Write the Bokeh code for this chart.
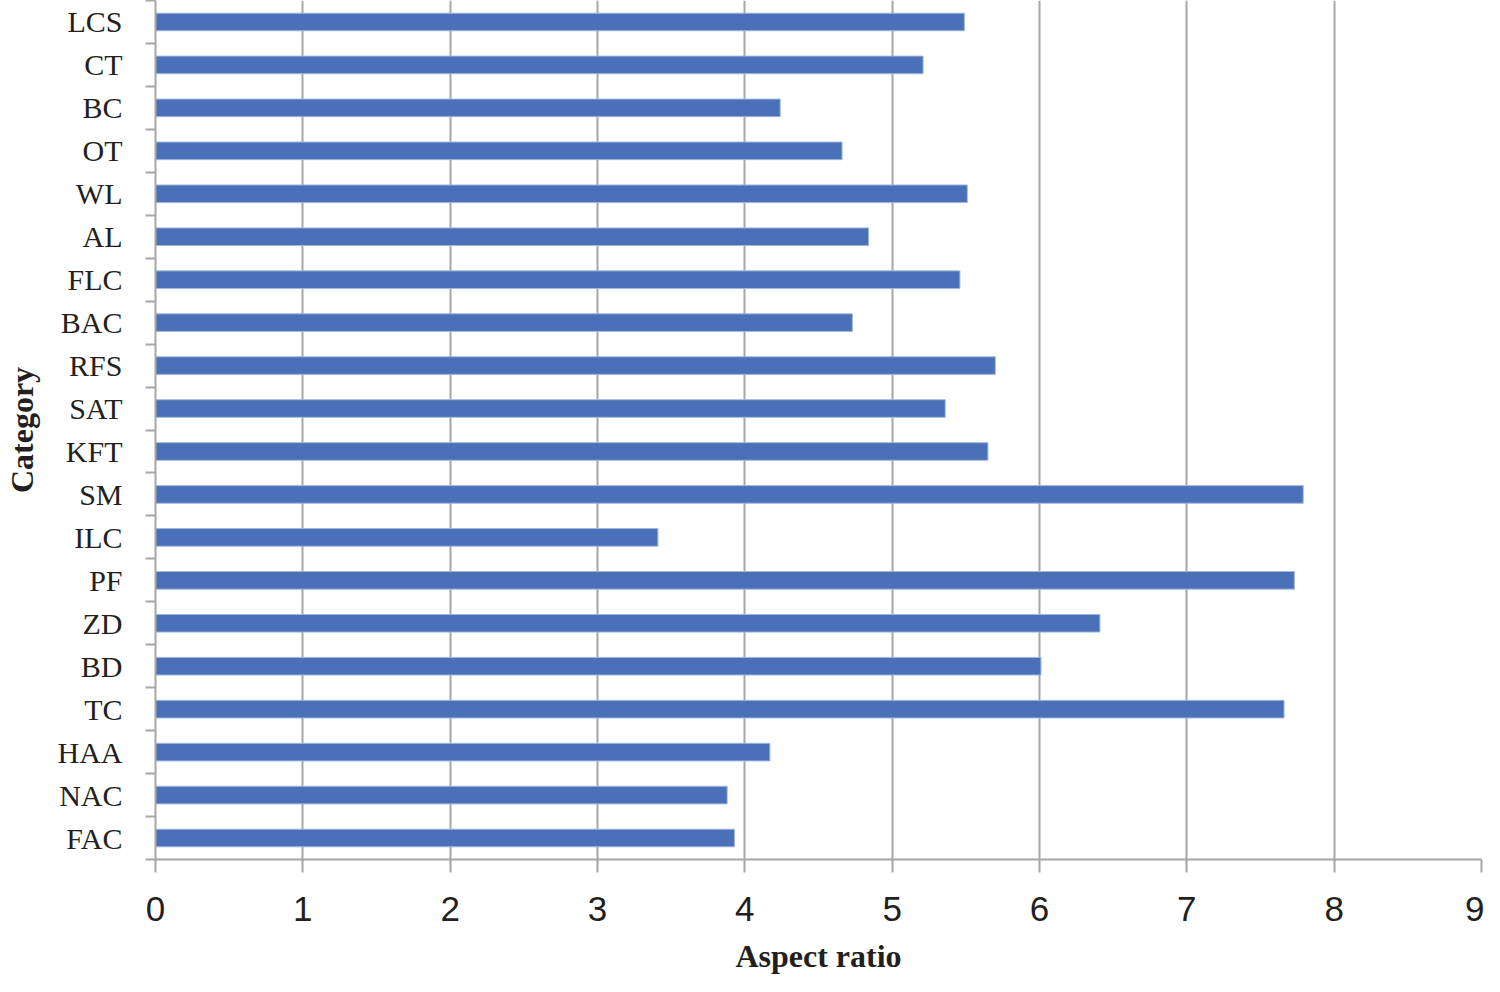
from bokeh.plotting import figure
from bokeh.models import ColumnDataSource, FixedTicker, Range1d
from bokeh.embed import file_html
from bokeh.resources import INLINE

# Data (bottom to top)
categories = ["FAC", "NAC", "HAA", "TC", "BD", "ZD", "PF", "ILC", "SM", "KFT",
              "SAT", "RFS", "BAC", "FLC", "AL", "WL", "OT", "BC", "CT", "LCS"]
values = [3.93, 3.88, 4.17, 7.66, 6.01, 6.41, 7.73, 3.41, 7.79, 5.65,
          5.36, 5.70, 4.73, 5.46, 4.84, 5.51, 4.66, 4.24, 5.21, 5.49]
x_ticks = [0, 1, 2, 3, 4, 5, 6, 7, 8, 9]
x_title = "Aspect ratio"
y_title = "Category"

positions = [i + 0.5 for i in range(len(categories))]
src = ColumnDataSource(dict(y=positions, v=values, cat=categories))

GRAY = "#a6a6a6"
TXT = "#231f20"
n = len(categories)

p = figure(width=1484, height=976, output_backend="svg", toolbar_location=None,
           x_range=Range1d(0, 9), y_range=Range1d(0, n),
           min_border_left=148, min_border_right=3, min_border_top=0,
           min_border_bottom=10)
p.outline_line_color = None
p.background_fill_color = "white"

p.hbar(y="y", right="v", left=0, height=0.41, source=src,
       fill_color="#4a71b8", line_color="#a3b6de", line_width=1)

# x axis
p.xaxis.ticker = FixedTicker(ticks=x_ticks)
p.xaxis.axis_label = x_title
p.xaxis.axis_line_color = GRAY
p.xaxis.axis_line_width = 2
p.xaxis.major_tick_line_color = GRAY
p.xaxis.major_tick_line_width = 2
p.xaxis.major_tick_out = 13
p.xaxis.major_tick_in = 0
p.xaxis.minor_tick_line_color = None
p.xaxis.major_label_text_font = "Liberation Sans"
p.xaxis.major_label_text_font_size = "35px"
p.xaxis.major_label_text_color = TXT
p.xaxis.major_label_standoff = 24
p.xaxis.axis_label_text_font = "Liberation Serif"
p.xaxis.axis_label_text_font_style = "bold"
p.xaxis.axis_label_text_font_size = "32px"
p.xaxis.axis_label_text_color = TXT
p.xaxis.axis_label_text_line_height = 0.8
p.xaxis.axis_label_standoff = 14

# y axis
p.yaxis.ticker = FixedTicker(ticks=positions, minor_ticks=list(range(n + 1)))
p.yaxis.major_label_overrides = {pos: c for pos, c in zip(positions, categories)}
p.yaxis.axis_label = y_title
p.yaxis.axis_line_color = GRAY
p.yaxis.axis_line_width = 2
p.yaxis.major_tick_line_color = None
p.yaxis.major_tick_out = 0
p.yaxis.major_tick_in = 0
p.yaxis.minor_tick_line_color = GRAY
p.yaxis.minor_tick_line_width = 2
p.yaxis.minor_tick_out = 10
p.yaxis.minor_tick_in = 0
p.yaxis.major_label_text_font = "Liberation Serif"
p.yaxis.major_label_text_font_size = "30px"
p.yaxis.major_label_text_color = TXT
p.yaxis.major_label_standoff = 23
p.yaxis.axis_label_text_font = "Liberation Serif"
p.yaxis.axis_label_text_font_style = "bold"
p.yaxis.axis_label_text_font_size = "32px"
p.yaxis.axis_label_text_color = TXT
p.yaxis.axis_label_standoff = 15

# grid
p.xgrid.ticker = FixedTicker(ticks=x_ticks)
p.xgrid.grid_line_color = GRAY
p.xgrid.grid_line_width = 2
p.ygrid.grid_line_color = None

open("out.html", "w").write(file_html(p, INLINE))
